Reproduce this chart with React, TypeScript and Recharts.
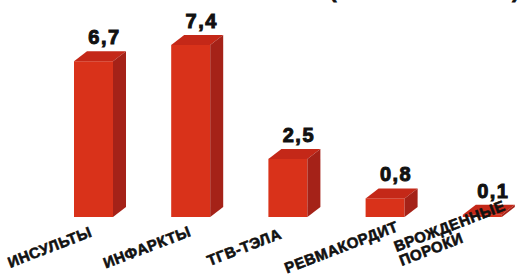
import React from 'react';
import { BarChart, Bar, XAxis, YAxis, LabelList } from 'recharts';

const categories = ['ИНСУЛЬТЫ', 'ИНФАРКТЫ', 'ТГВ-ТЭЛА', 'РЕВМАКОРДИТ', 'ВРОЖДЕННЫЕ\nПОРОКИ'];
const values = [6.7, 7.4, 2.5, 0.8, 0.1];
const valueLabels = ['6,7', '7,4', '2,5', '0,8', '0,1'];
const title = '(МЛН ЧЕЛ - 2012.)';

const data = categories.map((name, i) => ({ name, value: values[i], label: valueLabels[i] }));

const FONT = '"Liberation Sans", Arial, sans-serif';
const DX = 13;
const DY = 10;

const Bar3D = (props: any) => {
  const { x, y, width, height } = props;
  if (width == null || height == null) return null;
  return (
    <g>
      <rect x={x} y={y} width={width} height={height} fill="#D9321A" />
      <polygon
        points={`${x},${y} ${x + DX},${y - DY} ${x + width + DX},${y - DY} ${x + width},${y}`}
        fill="#C42818"
      />
      <polygon
        points={`${x + width},${y} ${x + width + DX},${y - DY} ${x + width + DX},${y + height - DY} ${x + width},${y + height}`}
        fill="#A52218"
      />
    </g>
  );
};

const ValueLabel = (props: any) => {
  const { x, y, width, index } = props;
  return (
    <text
      x={x + width / 2 + 11}
      y={y - 17}
      textAnchor="middle"
      fontFamily={FONT}
      fontWeight={900}
      fontSize={20}
      letterSpacing={1.5}
      fill="#111"
      stroke="#111"
      strokeWidth={1}
    >
      {valueLabels[index]}
    </text>
  );
};

const CategoryTick = (props: any) => {
  const { x, y, payload } = props;
  const lines: string[] = String(payload.value).split('\n');
  const angle = -21;
  const common = {
    fontFamily: FONT,
    fontWeight: 700,
    fontSize: 15,
    letterSpacing: 0.5,
    fill: '#111',
    stroke: '#111',
    strokeWidth: 0.6,
  };
  if (lines.length === 1) {
    const ax = x - 42;
    const ay = y + 27;
    return (
      <text x={ax} y={ay} transform={`rotate(${angle}, ${ax}, ${ay})`} textAnchor="middle" {...common}>
        {lines[0]}
      </text>
    );
  }
  const sx = x - 86;
  const sy = y + 27;
  return (
    <text x={sx} y={sy} transform={`rotate(${angle}, ${sx}, ${sy})`} textAnchor="start" {...common}>
      {lines.map((l, i) => (
        <tspan key={i} x={sx} dy={i === 0 ? 0 : 15}>
          {l}
        </tspan>
      ))}
    </text>
  );
};

export default function App() {
  return (
    <div style={{ position: 'absolute', left: 0, top: 0, width: 518, height: 275, background: '#fff', overflow: 'hidden' }}>
      <div
        style={{
          position: 'absolute',
          right: -2,
          top: -19,
          fontFamily: FONT,
          fontWeight: 900,
          fontSize: 20,
          letterSpacing: 1,
          color: '#111',
          whiteSpace: 'nowrap',
          lineHeight: '20px',
          WebkitTextStroke: '0.8px #111',
        }}
      >
        {title}
      </div>
      <BarChart
        width={518}
        height={275}
        data={data}
        margin={{ top: 31, right: -13, bottom: 0, left: 45 }}
        barCategoryGap={0}
      >
        <YAxis hide domain={[0, 8]} allowDataOverflow />
        <XAxis
          dataKey="name"
          interval={0}
          tickLine={false}
          axisLine={false}
          height={58}
          tick={<CategoryTick />}
        />
        <Bar dataKey="value" barSize={39} shape={<Bar3D />} isAnimationActive={false}>
          <LabelList dataKey="label" content={<ValueLabel />} />
        </Bar>
      </BarChart>
    </div>
  );
}
